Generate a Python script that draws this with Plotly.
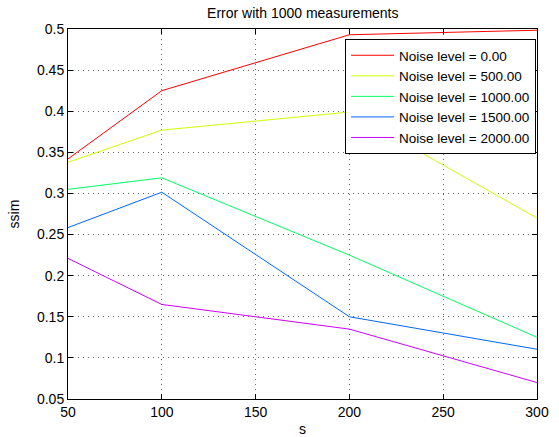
import plotly.graph_objects as go

s_values = [50, 100, 200, 300]
noise_labels = ["Noise level = 0.00", "Noise level = 500.00", "Noise level = 1000.00",
                "Noise level = 1500.00", "Noise level = 2000.00"]
ssim_noise0 = [0.342, 0.425, 0.493, 0.4985]
ssim_noise500 = [0.338, 0.377, 0.399, 0.270]
ssim_noise1000 = [0.305, 0.319, 0.225, 0.125]
ssim_noise1500 = [0.2585, 0.3015, 0.150, 0.1105]
ssim_noise2000 = [0.221, 0.165, 0.135, 0.070]
colors = ["#FF0000", "#CCFF00", "#00FF66", "#0066FF", "#CC00FF"]

x_ticks = [50, 100, 150, 200, 250, 300]
y_ticks = [0.05, 0.1, 0.15, 0.2, 0.25, 0.3, 0.35, 0.4, 0.45, 0.5]
y_tick_labels = ["0.05", "0.1", "0.15", "0.2", "0.25", "0.3", "0.35", "0.4", "0.45", "0.5"]

series = [ssim_noise0, ssim_noise500, ssim_noise1000, ssim_noise1500, ssim_noise2000]

font_family = "Liberation Sans, Arial, Helvetica, sans-serif"

fig = go.Figure()
for name, vals, col in zip(noise_labels, series, colors):
    fig.add_trace(go.Scatter(x=s_values, y=vals, mode="lines", name=name,
                             line=dict(color=col, width=1)))

axis_common = dict(
    showline=True, linecolor="black", linewidth=1, mirror="ticks",
    ticks="inside", ticklen=5, tickcolor="black",
    showgrid=True, gridcolor="#666666", griddash="1px,4px", gridwidth=1,
    zeroline=False, automargin=False,
    tickfont=dict(family=font_family, size=14, color="black"),
)

fig.update_layout(
    width=559, height=437,
    margin=dict(l=68, r=22, t=29, b=38),
    paper_bgcolor="white", plot_bgcolor="white",
    title=dict(text="Error with 1000 measurements", x=0.5417, xanchor="center",
               y=0.97, yanchor="middle",
               font=dict(family=font_family, size=14, color="black")),
    xaxis=dict(range=[50, 300], tickvals=x_ticks,
               title=dict(text="s", standoff=7, font=dict(family=font_family, size=14, color="black")),
               **axis_common),
    yaxis=dict(range=[0.05, 0.5], tickvals=y_ticks, ticktext=y_tick_labels,
               title=dict(text="ssim", standoff=14, font=dict(family=font_family, size=14, color="black")),
               **axis_common),
    legend=dict(x=0.998, y=0.973, xanchor="right", yanchor="top",
                bgcolor="white", bordercolor="black", borderwidth=1,
                font=dict(family=font_family, size=13.5, color="black"),
                itemwidth=43, tracegroupgap=0),
    showlegend=True,
)

fig.write_html("out.html", config={"displayModeBar": False},
               post_script="document.body.style.margin='0';document.body.style.padding='0';")
